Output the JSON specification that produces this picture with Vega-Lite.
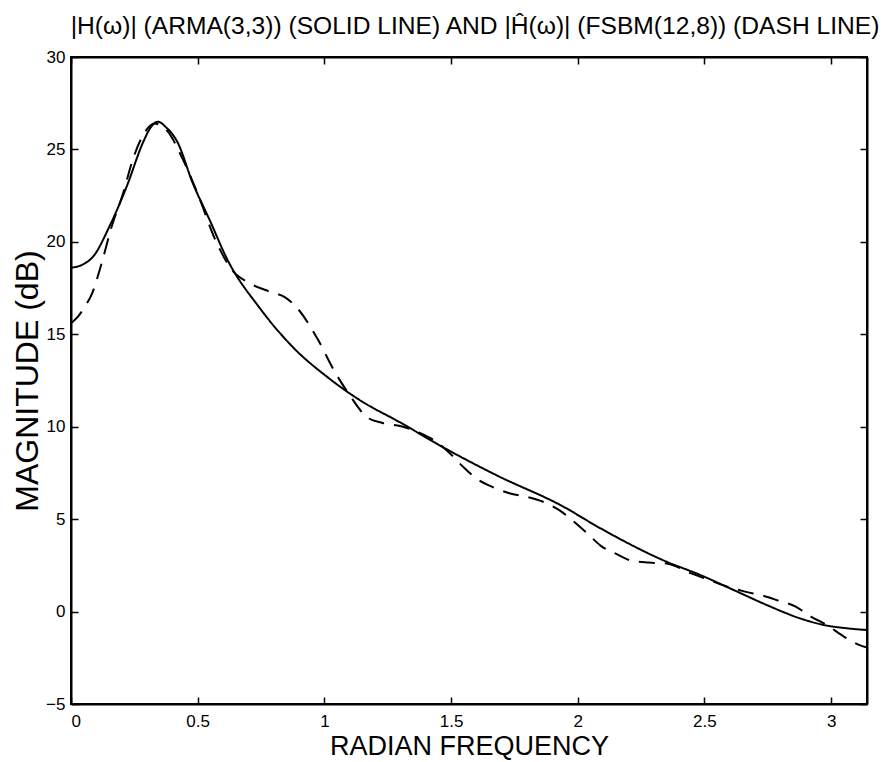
{
  "$schema": "https://vega.github.io/schema/vega-lite/v6.json",
  "autosize": "none",
  "width": 796,
  "height": 647,
  "padding": {"left": 71, "top": 57, "right": 21, "bottom": 58},
  "background": "white",
  "title": {
    "text": "|H(ω)| (ARMA(3,3)) (SOLID LINE) AND |Ĥ(ω)| (FSBM(12,8)) (DASH LINE)",
    "font": "Liberation Sans",
    "fontSize": 24.6,
    "fontWeight": "normal",
    "color": "black",
    "anchor": "middle",
    "dx": 6,
    "offset": 8
  },
  "data": {
    "values": [
      {"w": 0, "mag": 18.6, "s": "ARMA"},
      {"w": 0.05, "mag": 18.8, "s": "ARMA"},
      {"w": 0.087, "mag": 19.2, "s": "ARMA"},
      {"w": 0.154, "mag": 20.9, "s": "ARMA"},
      {"w": 0.22, "mag": 23.0, "s": "ARMA"},
      {"w": 0.285, "mag": 25.4, "s": "ARMA"},
      {"w": 0.315, "mag": 26.2, "s": "ARMA"},
      {"w": 0.343, "mag": 26.5, "s": "ARMA"},
      {"w": 0.375, "mag": 26.2, "s": "ARMA"},
      {"w": 0.42, "mag": 25.4, "s": "ARMA"},
      {"w": 0.48, "mag": 23.2, "s": "ARMA"},
      {"w": 0.55, "mag": 21.1, "s": "ARMA"},
      {"w": 0.615, "mag": 19.1, "s": "ARMA"},
      {"w": 0.746, "mag": 16.4, "s": "ARMA"},
      {"w": 0.876, "mag": 14.3, "s": "ARMA"},
      {"w": 1.02, "mag": 12.6, "s": "ARMA"},
      {"w": 1.15, "mag": 11.35, "s": "ARMA"},
      {"w": 1.29, "mag": 10.3, "s": "ARMA"},
      {"w": 1.48, "mag": 8.8, "s": "ARMA"},
      {"w": 1.68, "mag": 7.37, "s": "ARMA"},
      {"w": 1.94, "mag": 5.7, "s": "ARMA"},
      {"w": 2.09, "mag": 4.5, "s": "ARMA"},
      {"w": 2.35, "mag": 2.7, "s": "ARMA"},
      {"w": 2.48, "mag": 2.0, "s": "ARMA"},
      {"w": 2.61, "mag": 1.2, "s": "ARMA"},
      {"w": 2.75, "mag": 0.33, "s": "ARMA"},
      {"w": 2.88, "mag": -0.38, "s": "ARMA"},
      {"w": 2.98, "mag": -0.75, "s": "ARMA"},
      {"w": 3.06, "mag": -0.9, "s": "ARMA"},
      {"w": 3.1416, "mag": -1.0, "s": "ARMA"},
      {"w": 0, "mag": 15.6, "s": "FSBM"},
      {"w": 0.03, "mag": 16.0, "s": "FSBM"},
      {"w": 0.055, "mag": 16.5, "s": "FSBM"},
      {"w": 0.083, "mag": 17.2, "s": "FSBM"},
      {"w": 0.122, "mag": 18.9, "s": "FSBM"},
      {"w": 0.16, "mag": 20.8, "s": "FSBM"},
      {"w": 0.205, "mag": 22.6, "s": "FSBM"},
      {"w": 0.245, "mag": 24.5, "s": "FSBM"},
      {"w": 0.29, "mag": 25.9, "s": "FSBM"},
      {"w": 0.33, "mag": 26.4, "s": "FSBM"},
      {"w": 0.38, "mag": 26.0, "s": "FSBM"},
      {"w": 0.44, "mag": 24.5, "s": "FSBM"},
      {"w": 0.5, "mag": 22.6, "s": "FSBM"},
      {"w": 0.57, "mag": 20.1, "s": "FSBM"},
      {"w": 0.64, "mag": 18.4, "s": "FSBM"},
      {"w": 0.7, "mag": 17.8, "s": "FSBM"},
      {"w": 0.785, "mag": 17.3, "s": "FSBM"},
      {"w": 0.845, "mag": 17.0, "s": "FSBM"},
      {"w": 0.9, "mag": 16.3, "s": "FSBM"},
      {"w": 0.975, "mag": 14.7, "s": "FSBM"},
      {"w": 1.04, "mag": 13.0, "s": "FSBM"},
      {"w": 1.1, "mag": 11.7, "s": "FSBM"},
      {"w": 1.17, "mag": 10.5, "s": "FSBM"},
      {"w": 1.23, "mag": 10.2, "s": "FSBM"},
      {"w": 1.31, "mag": 10.0, "s": "FSBM"},
      {"w": 1.37, "mag": 9.7, "s": "FSBM"},
      {"w": 1.46, "mag": 9.0, "s": "FSBM"},
      {"w": 1.5, "mag": 8.5, "s": "FSBM"},
      {"w": 1.55, "mag": 7.8, "s": "FSBM"},
      {"w": 1.6, "mag": 7.2, "s": "FSBM"},
      {"w": 1.67, "mag": 6.7, "s": "FSBM"},
      {"w": 1.73, "mag": 6.4, "s": "FSBM"},
      {"w": 1.8, "mag": 6.2, "s": "FSBM"},
      {"w": 1.87, "mag": 5.9, "s": "FSBM"},
      {"w": 1.93, "mag": 5.46, "s": "FSBM"},
      {"w": 1.98, "mag": 4.92, "s": "FSBM"},
      {"w": 2.04, "mag": 4.2, "s": "FSBM"},
      {"w": 2.09, "mag": 3.57, "s": "FSBM"},
      {"w": 2.15, "mag": 3.13, "s": "FSBM"},
      {"w": 2.21, "mag": 2.76, "s": "FSBM"},
      {"w": 2.28, "mag": 2.65, "s": "FSBM"},
      {"w": 2.35, "mag": 2.6, "s": "FSBM"},
      {"w": 2.45, "mag": 2.05, "s": "FSBM"},
      {"w": 2.52, "mag": 1.7, "s": "FSBM"},
      {"w": 2.59, "mag": 1.35, "s": "FSBM"},
      {"w": 2.66, "mag": 1.08, "s": "FSBM"},
      {"w": 2.73, "mag": 0.86, "s": "FSBM"},
      {"w": 2.79, "mag": 0.6, "s": "FSBM"},
      {"w": 2.86, "mag": 0.27, "s": "FSBM"},
      {"w": 2.92, "mag": -0.27, "s": "FSBM"},
      {"w": 2.98, "mag": -0.7, "s": "FSBM"},
      {"w": 3.05, "mag": -1.35, "s": "FSBM"},
      {"w": 3.11, "mag": -1.8, "s": "FSBM"},
      {"w": 3.1416, "mag": -1.95, "s": "FSBM"}
    ]
  },
  "layer": [
    {
      "mark": {"type": "line", "color": "black", "strokeWidth": 2, "interpolate": "monotone", "clip": true},
      "encoding": {
        "x": {
          "field": "w", "type": "quantitative",
          "scale": {"domain": [0, 3.1416], "nice": false, "zero": false},
          "axis": {"values": [0, 0.5, 1, 1.5, 2, 2.5, 3], "format": "~g", "labelPadding": 16, "title": "RADIAN FREQUENCY", "titleFontSize": 27, "titlePadding": 4}
        },
        "y": {
          "field": "mag", "type": "quantitative",
          "scale": {"domain": [-5, 30], "nice": false, "zero": false},
          "axis": {"values": [-5, 0, 5, 10, 15, 20, 25, 30], "format": "~g", "labelPadding": 13, "title": "MAGNITUDE (dB)", "titleFontSize": 32, "titlePadding": 1}
        },
        "strokeDash": {
          "field": "s", "type": "nominal",
          "scale": {"domain": ["ARMA", "FSBM"], "range": [[1, 0], [16, 10]]},
          "legend": null
        }
      }
    },
    {
      "mark": {"type": "line", "opacity": 0, "interpolate": "monotone"},
      "encoding": {
        "x": {
          "field": "w", "type": "quantitative",
          "scale": {"domain": [0, 3.1416], "nice": false, "zero": false},
          "axis": {"orient": "top", "values": [0, 0.5, 1, 1.5, 2, 2.5, 3], "labels": false, "title": null}
        },
        "y": {
          "field": "mag", "type": "quantitative",
          "scale": {"domain": [-5, 30], "nice": false, "zero": false},
          "axis": {"orient": "right", "values": [-5, 0, 5, 10, 15, 20, 25, 30], "labels": false, "title": null}
        },
        "detail": {"field": "s"}
      }
    }
  ],
  "resolve": {"axis": {"x": "independent", "y": "independent"}},
  "config": {
    "view": {"stroke": "black", "strokeWidth": 2},
    "axis": {
      "grid": false,
      "domainColor": "black",
      "domainWidth": 2,
      "tickColor": "black",
      "tickWidth": 1.5,
      "tickSize": -7,
      "labelFont": "Liberation Sans",
      "labelFontSize": 17,
      "labelColor": "black",
      "titleFont": "Liberation Sans",
      "titleFontWeight": "normal",
      "titleColor": "black"
    }
  }
}
